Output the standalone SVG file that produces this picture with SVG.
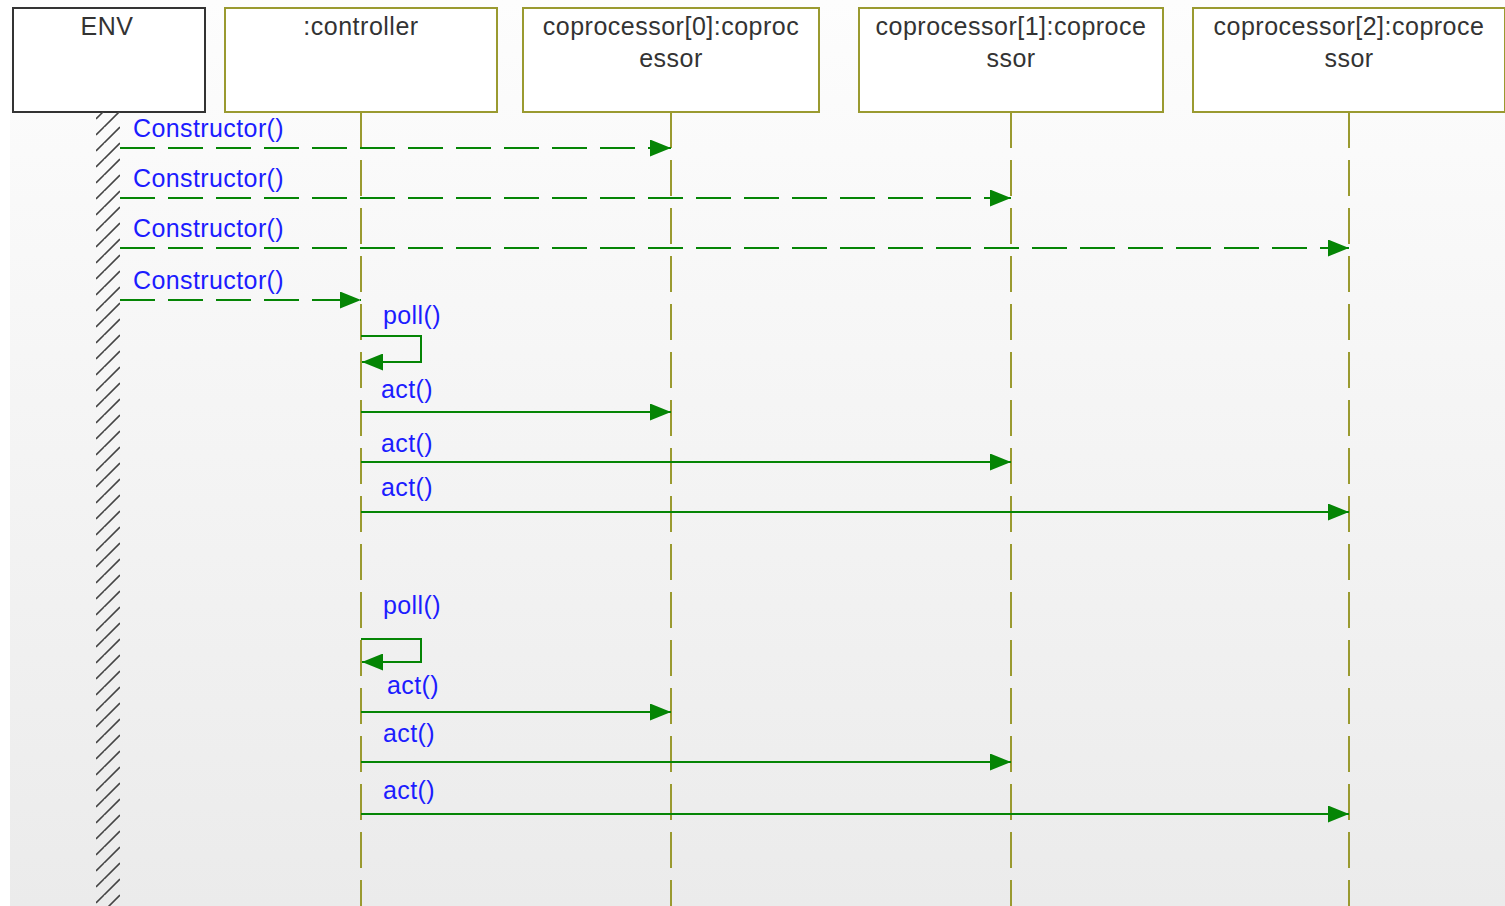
<svg xmlns="http://www.w3.org/2000/svg" width="1505" height="906" viewBox="0 0 1505 906">
<style>
.hdr{font-family:"Liberation Sans",Arial,sans-serif;font-size:25px;fill:#333333;text-anchor:middle;letter-spacing:0.5px}
.lbl{font-family:"Liberation Sans",Arial,sans-serif;font-size:25px;fill:#1c1cff;letter-spacing:0.4px}
.box{fill:#ffffff;stroke:#9a9a30;stroke-width:2}
.env{fill:#ffffff;stroke:#333333;stroke-width:2}
.life{stroke:#9a9a30;stroke-width:2;stroke-dasharray:36 12;fill:none}
.msg{stroke:#058505;stroke-width:2;fill:none;marker-end:url(#arr)}
.dash{stroke-dasharray:35 13}
</style>
<defs>
<linearGradient id="bg" x1="0" y1="0" x2="0" y2="1">
<stop offset="0" stop-color="#fdfdfd"/>
<stop offset="1" stop-color="#ebebeb"/>
</linearGradient>
<pattern id="hatch" patternUnits="userSpaceOnUse" x="96" y="-1" width="24" height="16">
<line x1="0" y1="8" x2="8" y2="0" stroke="#444444" stroke-width="1.6"/>
<line x1="0" y1="24" x2="24" y2="0" stroke="#444444" stroke-width="1.6"/>
<line x1="0" y1="40" x2="24" y2="16" stroke="#444444" stroke-width="1.6"/>
</pattern>
<marker id="arr" markerUnits="userSpaceOnUse" markerWidth="21" markerHeight="17" refX="21" refY="8.5" orient="auto" viewBox="0 0 21 17">
<path d="M0,0 L21,8.5 L0,17 Z" fill="#058505"/>
</marker>
</defs>
<rect x="0" y="0" width="1505" height="906" fill="#ffffff"/>
<rect x="10" y="0" width="1495" height="906" fill="url(#bg)"/>

<g id="env">
<rect class="env" x="13" y="8" width="192" height="104"/>
<text class="hdr" x="107" y="35">ENV</text>
<rect x="96" y="112" width="24" height="794" fill="url(#hatch)"/>
</g>
<g id="controller">
<rect class="box" x="225" y="8" width="272" height="104"/>
<text class="hdr" x="361" y="35">:controller</text>
<line class="life" x1="361" y1="112" x2="361" y2="906"/>
</g>
<g id="coprocessor0">
<rect class="box" x="523" y="8" width="296" height="104"/>
<text class="hdr" x="671" y="35">coprocessor[0]:coproc</text>
<text class="hdr" x="671" y="67">essor</text>
<line class="life" x1="671" y1="112" x2="671" y2="906"/>
</g>
<g id="coprocessor1">
<rect class="box" x="859" y="8" width="304" height="104"/>
<text class="hdr" x="1011" y="35">coprocessor[1]:coproce</text>
<text class="hdr" x="1011" y="67">ssor</text>
<line class="life" x1="1011" y1="112" x2="1011" y2="906"/>
</g>
<g id="coprocessor2">
<rect class="box" x="1193" y="8" width="312" height="104"/>
<text class="hdr" x="1349" y="35">coprocessor[2]:coproce</text>
<text class="hdr" x="1349" y="67">ssor</text>
<line class="life" x1="1349" y1="112" x2="1349" y2="906"/>
</g>

<g id="connectors">
<path class="msg dash" d="M120,148 H671"/>
<text class="lbl" x="133" y="137">Constructor()</text>
<path class="msg dash" d="M120,198 H1011"/>
<text class="lbl" x="133" y="187">Constructor()</text>
<path class="msg dash" d="M120,248 H1349"/>
<text class="lbl" x="133" y="237">Constructor()</text>
<path class="msg dash" d="M120,300 H361"/>
<text class="lbl" x="133" y="289">Constructor()</text>

<text class="lbl" x="383" y="324">poll()</text>
<path class="msg" d="M361,336 H421 V362 H362"/>
<text class="lbl" x="381" y="398">act()</text>
<path class="msg" d="M361,412 H671"/>
<text class="lbl" x="381" y="452">act()</text>
<path class="msg" d="M361,462 H1011"/>
<text class="lbl" x="381" y="496">act()</text>
<path class="msg" d="M361,512 H1349"/>

<text class="lbl" x="383" y="614">poll()</text>
<path class="msg" d="M361,639 H421 V662 H362"/>
<text class="lbl" x="387" y="694">act()</text>
<path class="msg" d="M361,712 H671"/>
<text class="lbl" x="383" y="742">act()</text>
<path class="msg" d="M361,762 H1011"/>
<text class="lbl" x="383" y="799">act()</text>
<path class="msg" d="M361,814 H1349"/>
</g>
</svg>
